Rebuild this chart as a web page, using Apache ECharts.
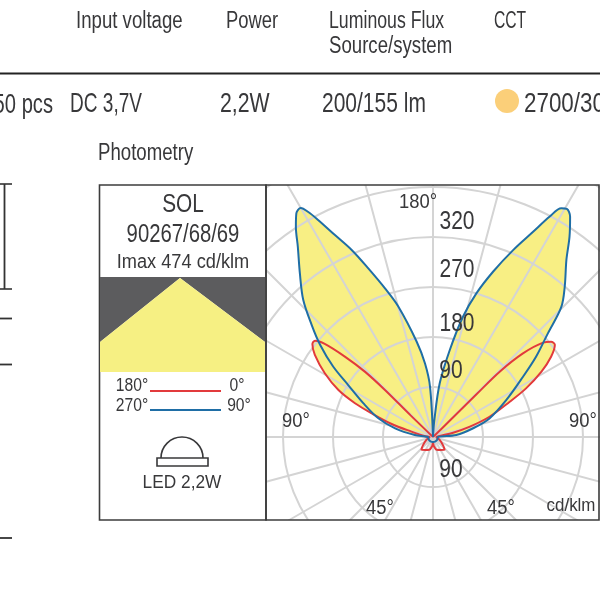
<!DOCTYPE html>
<html><head><meta charset="utf-8">
<style>html,body{margin:0;padding:0;background:#fff;overflow:hidden}#c{width:600px;height:600px}</style>
<script src="https://cdn.jsdelivr.net/npm/echarts@6/dist/echarts.min.js"></script>
</head><body><div id="c"></div>
<script>
// C90/C270 plane (blue): angle clockwise from the top of the diagram, cd/klm
const blueAngles=[0,4.5,7.1,10.9,14,16.8,20,23.2,26,27.9,29.3,30.4,31.9,34.3,37,41.2,44.6,47.9,52.1,56.2,63.2,71.8,77.7,85.1,90,
 120,150,180,210,240,
 270,276.3,282.9,288.9,295.8,301.5,305.2,309.2,312.7,316.6,320.9,324.6,326.9,328.6,330,331,332.1,334.1,336.5,339,342.1,345.1,350.3,353.8,356.6,360];
const blueValues=[0,30,97,159,223,270,317,366,411,449,472,476,467,436,399,360,329,279,235,195,148,107,74,42,9,
 9,9,9,9,9,
 9,33,70,104,139,179,220,262,297,340,380,420,452,472,476,463,442,404,367,325,281,243,174,133,91,0];
// C0/C180 plane (red)
const redAngles=[0,46,45.5,45.6,47.1,49.4,51.1,52.9,55.8,58.9,62.4,65.3,70.3,74.3,77.9,81.5,
 90,115,130,138,150,164,175,180,185,196,210,222,230,245,
 270,275,284,287.5,291.1,293.4,296.4,300.5,304.8,307.6,309.2,310.7,312.4,313.8,314.4,314,360];
const redValues=[0,24,111,168,221,261,273,275,257,228,189,152,108,69,37,12,
 6,14,24,31,27,24,16,10,16,24,27,31,24,14,
 6,14,40,78,118,153,190,226,259,274,274,257,214,170,121,56,0];
const ringStep=90, radiusMax=558;
const ringLabels=[['320',457,221],['270',457,269],['180',457,323],['90',451,370],['90',451,469]];
const angleLabels=[['180°',418,201],['90°',296,420],['90°',583,420],['45°',380,507],['45°',501,507]];
const FONT='"Liberation Sans",sans-serif';
const INK='#38383a', YEL='#f8ef84', RED='#e23a3c', BLUE='#1f6ea6', GRID='#d4d4d4';

const pairs=(a,v,keep)=>a.map((x,i)=>[v[i],x]).filter(p=>!keep||keep(p[1]));
const front=a=>a<=90||a>=270;
const fillSeries=(a,v)=>({type:'line',coordinateSystem:'polar',data:pairs(a,v,front),smooth:0.33,symbol:'none',z:0,
  lineStyle:{width:0},areaStyle:{color:YEL,opacity:1},silent:true});
const lineSeries=(a,v,c,z)=>({type:'line',coordinateSystem:'polar',data:pairs(a,v),smooth:0.33,symbol:'none',z:z,
  lineStyle:{color:c,width:2},silent:true});

const txt=(s,x,y,size,sx,align)=>({type:'text',z:30,x:x,y:y+1.5,scaleX:sx,originX:0,originY:0,silent:true,
  style:{text:s,fontFamily:FONT,fontSize:size,fill:INK,align:align||'center',verticalAlign:'middle'}});
const rect=(x,y,w,h,fill,z,stroke,lw)=>({type:'rect',z:z,silent:true,shape:{x,y,width:w,height:h},
  style:{fill:fill,stroke:stroke||null,lineWidth:lw||0}});
const line=(x1,y1,x2,y2,c,w,z)=>({type:'line',z:z||30,silent:true,shape:{x1,y1,x2,y2},style:{stroke:c,lineWidth:w}});

const graphics=[
 rect(0,0,266,600,'#fff',10), rect(0,0,600,185,'#fff',10), rect(0,520,600,80,'#fff',10),
 rect(266,185,333,335,'rgba(0,0,0,0)',25,'#3c3c3c',1.6),
 rect(99.5,185,166.5,335,'#fff',20,'#3c3c3c',1.6),
 {type:'polygon',z:21,silent:true,shape:{points:[[100,277],[265,277],[265,342],[180,278],[100,342]]},style:{fill:'#5c5c5e'}},
 {type:'polygon',z:21,silent:true,shape:{points:[[180,278],[265,342],[265,372],[100,372],[100,342]]},style:{fill:'#f6f083'}},
 line(150,391,221,391,RED,1.8), line(150,410,221,410,BLUE,1.8),
 {type:'arc',z:30,silent:true,shape:{cx:182,cy:458,r:21,startAngle:Math.PI,endAngle:2*Math.PI},style:{fill:'none',stroke:INK,lineWidth:1.6}},
 rect(157,458,51,8,'#fff',30,INK,1.6),
 line(0,73.5,600,73.5,'#222',2),
 line(0,184,12,184,'#333',1.6), line(4.5,184,4.5,289,'#333',1.8), line(0,289,12,289,'#333',1.6),
 line(0,318.5,12,318.5,'#333',1.8), line(0,364.5,12,364.5,'#333',1.8), line(0,538,12,538,'#333',1.8),
 {type:'circle',z:30,silent:true,shape:{cx:507,cy:101,r:12},style:{fill:'#fbcf79'}},
 txt('SOL',183,203,26,0.8), txt('90267/68/69',183,233,26,0.78), txt('Imax 474 cd/klm',183,261,20,0.91),
 txt('180°',132,385,18,0.87), txt('0°',237,385,18,0.87), txt('270°',132,405,18,0.87), txt('90°',239,405,18,0.87),
 txt('LED 2,2W',182,481,19,0.91), txt('cd/klm',571,505,18,0.94),
 txt('Input voltage',76,20,23,0.81,'left'), txt('Power',226,20,23,0.8,'left'),
 txt('Luminous Flux',329,20,23,0.77,'left'), txt('Source/system',329,45,23,0.81,'left'), txt('CCT',494,20,23,0.68,'left'),
 txt('50 pcs',53,103.5,28,0.72,'right'), txt('DC 3,7V',70,102.5,28,0.68,'left'), txt('2,2W',220,102.5,28,0.76,'left'),
 txt('200/155 lm',322,102.5,28,0.75,'left'), txt('2700/30',524,102.5,28,0.8,'left'), txt('Photometry',98,152,23,0.81,'left'),
 ...ringLabels.map(l=>txt(l[0],l[1],l[2],25,0.84)),
 ...angleLabels.map(l=>txt(l[0],l[1],l[2]-0.5,20,0.92))
];

const chart=echarts.init(document.getElementById('c'),null,{renderer:'canvas'});
chart.setOption({
 animation:false, backgroundColor:'#fff',
 polar:{center:[433,437],radius:310},
 angleAxis:{type:'value',z:1,min:0,max:360,interval:15,startAngle:90,clockwise:true,
  axisLine:{show:false},axisTick:{show:false},axisLabel:{show:false},
  splitLine:{show:true,lineStyle:{color:GRID,width:2}}},
 radiusAxis:{type:'value',z:1,min:0,max:radiusMax,interval:ringStep,
  axisLine:{show:false},axisTick:{show:false},axisLabel:{show:false},
  splitLine:{show:true,lineStyle:{color:GRID,width:2}}},
 series:[fillSeries(redAngles,redValues),fillSeries(blueAngles,blueValues),
  lineSeries(redAngles,redValues,RED,3),lineSeries(blueAngles,blueValues,BLUE,4)],
 graphic:{elements:graphics}
});
</script></body></html>
